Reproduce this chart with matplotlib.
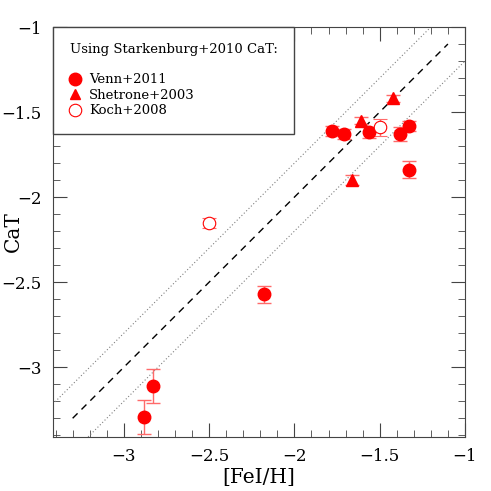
import numpy as np
import matplotlib
matplotlib.use("Agg")
from matplotlib import pyplot as plt
from matplotlib.lines import Line2D
from matplotlib.ticker import MultipleLocator, FuncFormatter

plt.rcParams['font.family'] = ['DejaVu Serif']
plt.rcParams['mathtext.fontset'] = 'dejavuserif'

# Venn+2011 (filled circles)
venn_fe = [-2.88, -2.83, -2.18, -1.78, -1.71, -1.56, -1.38, -1.33, -1.33]
venn_cat = [-3.29, -3.11, -2.57, -1.61, -1.63, -1.62, -1.63, -1.58, -1.84]
venn_err = [0.10, 0.10, 0.05, 0.03, 0.03, 0.03, 0.04, 0.03, 0.05]

# Shetrone+2003 (filled triangles)
shet_fe = [-1.61, -1.42, -1.66]
shet_cat = [-1.55, -1.42, -1.90]
shet_err = [0.02, 0.02, 0.03]

# Koch+2008 (open circles)
koch_fe = [-2.50, -1.50]
koch_cat = [-2.15, -1.59]
koch_err = [0.03, 0.05]

one_to_one = [-3.3, -1.1]
scatter_band = 0.2

red = '#ff0000'
err_red = '#ff6a6a'

fig = plt.figure(figsize=(4.91, 4.91), dpi=100)
ax = fig.add_axes([0.108, 0.11, 0.839, 0.835])

x = np.array(one_to_one)
ax.plot(x, x, color='black', ls=(0, (5, 4)), lw=1)
xu = np.array([-3.5, -1.0])
ax.plot(xu, xu + scatter_band, color='gray', ls=(0, (1, 2)), lw=0.8)
ax.plot(xu, xu - scatter_band, color='gray', ls=(0, (1, 2)), lw=0.8)

ax.errorbar(venn_fe, venn_cat, yerr=venn_err, fmt='o', color=red, ms=9,
            ecolor=err_red, elinewidth=1, capsize=5, capthick=1, zorder=3)
ax.errorbar(shet_fe, shet_cat, yerr=shet_err, fmt='^', color=red, ms=8,
            ecolor=err_red, elinewidth=1, capsize=5, capthick=1, zorder=3)
ax.errorbar(koch_fe, koch_cat, yerr=koch_err, fmt='o', mfc='white', mec=red,
            mew=0.8, ms=9, ecolor=err_red, elinewidth=1, capsize=5,
            capthick=1, zorder=3)

ax.set_xlim(-3.415, -1.0)
ax.set_ylim(-3.41, -1.0)
fmt = FuncFormatter(lambda v, p: ('%g' % v).replace('-', '\u2212'))
for axis in (ax.xaxis, ax.yaxis):
    axis.set_major_locator(MultipleLocator(0.5))
    axis.set_minor_locator(MultipleLocator(0.1))
    axis.set_major_formatter(fmt)
ax.tick_params(which='both', direction='in', top=True, right=True,
               labelsize=12, color='#444444')
ax.tick_params(which='major', length=10, pad=8)
ax.tick_params(which='minor', length=5)
for s in ax.spines.values():
    s.set_color('#444444')

ax.set_xlabel('[FeI/H]', fontsize=14.5, labelpad=2)
ax.set_ylabel('CaT', fontsize=14.5)
ax.yaxis.set_label_coords(-0.073, 0.5)

handles = [
    Line2D([], [], marker='o', ls='none', color=red, ms=9),
    Line2D([], [], marker='^', ls='none', color=red, ms=7),
    Line2D([], [], marker='o', ls='none', mfc='white', mec=red, ms=9, mew=0.8),
]
leg = ax.legend(handles, ['Venn+2011', 'Shetrone+2003', 'Koch+2008'],
                title='Using Starkenburg+2010 CaT:', loc='upper left',
                bbox_to_anchor=(0, 1), borderaxespad=0, fontsize=9.5,
                title_fontsize=9.5, fancybox=False, edgecolor='#444444',
                framealpha=1, handletextpad=0.7, labelspacing=0.2,
                borderpad=1.25, handlelength=0.8)
leg._legend_box.align = 'left'
leg._legend_box.sep = 12
leg.get_frame().set_linewidth(1)

fig.savefig('out.png', dpi=100)
